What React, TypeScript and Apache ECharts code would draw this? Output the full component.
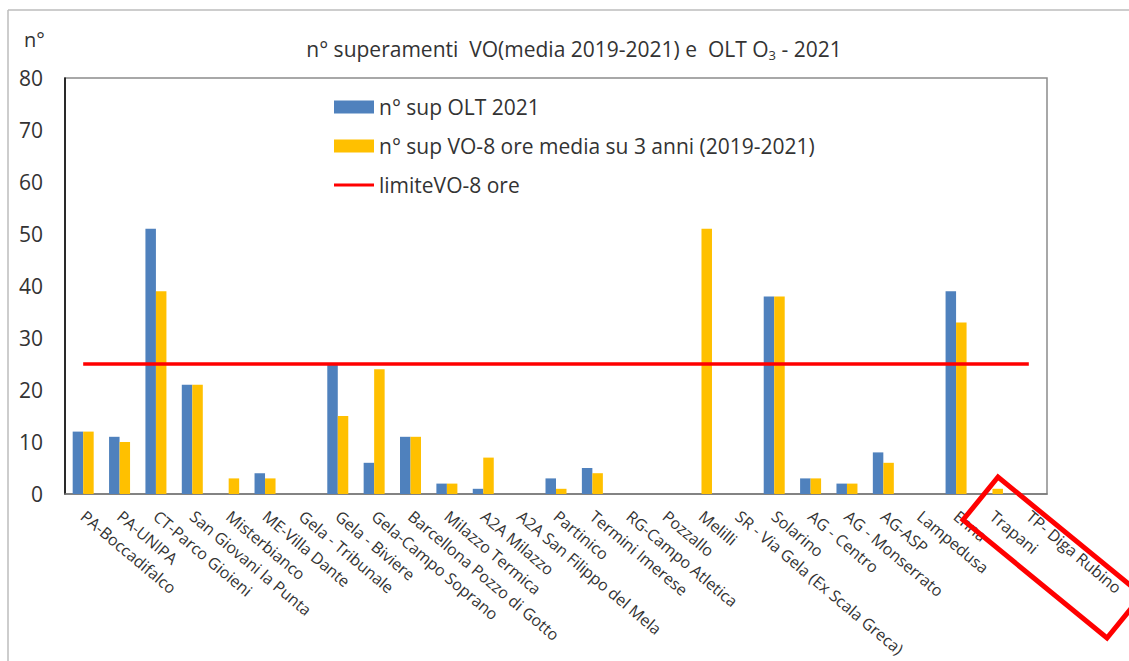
import React, { useEffect, useRef } from "react";
import * as echarts from "echarts";

const categories = [
  "PA-Boccadifalco",
  "PA-UNIPA",
  "CT-Parco Gioieni",
  "San Giovani la Punta",
  "Misterbianco",
  "ME-Villa Dante",
  "Gela - Tribunale",
  "Gela - Biviere",
  "Gela-Campo Soprano",
  "Barcellona Pozzo di Gotto",
  "Milazzo Termica",
  "A2A Milazzo",
  "A2A San Filippo del Mela",
  "Partinico",
  "Termini Imerese",
  "RG-Campo Atletica",
  "Pozzallo",
  "Melilli",
  "SR - Via Gela (Ex Scala Greca)",
  "Solarino",
  "AG - Centro",
  "AG - Monserrato",
  "AG-ASP",
  "Lampedusa",
  "Enna",
  "Trapani",
  "TP- Diga Rubino",
];

const supOLT2021 = [12, 11, 51, 21, 0, 4, 0, 25, 6, 11, 2, 1, 0, 3, 5, 0, 0, 0, 0, 38, 3, 2, 8, 0, 39, 0, 0];
const supVO8Media = [12, 10, 39, 21, 3, 3, 0, 15, 24, 11, 2, 7, 0, 1, 4, 0, 0, 51, 0, 38, 3, 2, 6, 0, 33, 1, 0];
const limiteVO8 = categories.map(() => 25);

const yTicks = { min: 0, max: 80, interval: 10 };

const FONT = "'Open Sans', 'Noto Sans', sans-serif";
const LINE_ICON =
  "path://M0,0 L0.01,0 L0.01,0.01 Z M0,5 L40,5 L40,8 L0,8 Z M0,13 L0.01,13 L0.01,12.99 Z";

export default function App() {
  const ref = useRef<HTMLDivElement>(null);

  useEffect(() => {
    if (!ref.current) return;
    const chart = echarts.init(ref.current, undefined, { renderer: "svg" });
    chart.setOption({
      animation: false,
      backgroundColor: "#ffffff",
      textStyle: { fontFamily: FONT, color: "#333" },
      title: {
        text: "n° superamenti  VO(media 2019-2021) e  OLT O{sub|3} - 2021",
        left: 569,
        textAlign: "center",
        top: 31,
        textStyle: {
          fontFamily: FONT,
          fontSize: 21,
          fontWeight: "normal",
          color: "#333",
          rich: {
            sub: { fontSize: 13, verticalAlign: "bottom", padding: [12, 0, 0, 0], fontFamily: FONT, color: "#333" },
          },
        },
      },
      legend: {
        orient: "vertical",
        left: 334,
        top: 93,
        padding: 0,
        itemGap: 11,
        itemWidth: 40,
        itemHeight: 13,
        textStyle: { fontFamily: FONT, fontSize: 21, color: "#333", lineHeight: 28 },
        data: [
          { name: "n° sup OLT 2021", icon: "rect" },
          { name: "n° sup VO-8 ore media su 3 anni (2019-2021)", icon: "rect" },
          { name: "limiteVO-8 ore", icon: LINE_ICON },
        ],
      },
      grid: {
        left: 65,
        top: 78,
        width: 982,
        height: 416,
        show: true,
        borderColor: "#8c8c8c",
        borderWidth: 1.5,
        backgroundColor: "transparent",
      },
      xAxis: {
        type: "category",
        data: categories,
        boundaryGap: true,
        axisLine: { show: true, lineStyle: { color: "#777", width: 1.5 } },
        axisTick: { show: false },
        axisLabel: {
          interval: 0,
          rotate: -40,
          fontFamily: FONT,
          fontSize: 16,
          color: "#333",
          margin: 20,
        },
        splitLine: { show: false },
      },
      yAxis: {
        type: "value",
        min: yTicks.min,
        max: yTicks.max,
        interval: yTicks.interval,
        axisLine: { show: true, lineStyle: { color: "#000", width: 1.5 } },
        axisTick: { show: false },
        splitLine: { show: false },
        axisLabel: { fontFamily: FONT, fontSize: 21, color: "#333", margin: 22 },
      },
      series: [
        {
          name: "n° sup OLT 2021",
          type: "bar",
          data: supOLT2021,
          barWidth: 10.5,
          barGap: "0%",
          itemStyle: { color: "#4F81BD" },
        },
        {
          name: "n° sup VO-8 ore media su 3 anni (2019-2021)",
          type: "bar",
          data: supVO8Media,
          barWidth: 10.5,
          barGap: "0%",
          itemStyle: { color: "#FFC000" },
        },
        {
          name: "limiteVO-8 ore",
          type: "line",
          data: limiteVO8,
          symbol: "none",
          lineStyle: { color: "#FF0000", width: 3.5 },
          itemStyle: { color: "#FF0000" },
          z: 5,
        },
      ],
      graphic: [
        {
          type: "line",
          shape: { x1: 8, y1: 10, x2: 1129, y2: 10 },
          style: { stroke: "#bdbdbd", lineWidth: 1.5 },
          silent: true,
        },
        {
          type: "line",
          shape: { x1: 8, y1: 10, x2: 8, y2: 661 },
          style: { stroke: "#bdbdbd", lineWidth: 1.5 },
          silent: true,
        },
        {
          type: "text",
          left: 24,
          top: 29,
          style: { text: "n°", fontFamily: FONT, fontSize: 20, fill: "#333" },
        },
        {
          type: "polygon",
          shape: {
            points: [
              [998, 477],
              [963, 520],
              [1107, 638],
              [1142, 595],
            ],
          },
          style: { fill: "none", stroke: "#FF0000", lineWidth: 5, lineJoin: "miter" },
          z: 100,
          silent: true,
        },
      ],
    });
    return () => chart.dispose();
  }, []);

  return (
    <div
      ref={ref}
      style={{ position: "absolute", left: 0, top: 0, width: 1129, height: 661 }}
    />
  );
}
